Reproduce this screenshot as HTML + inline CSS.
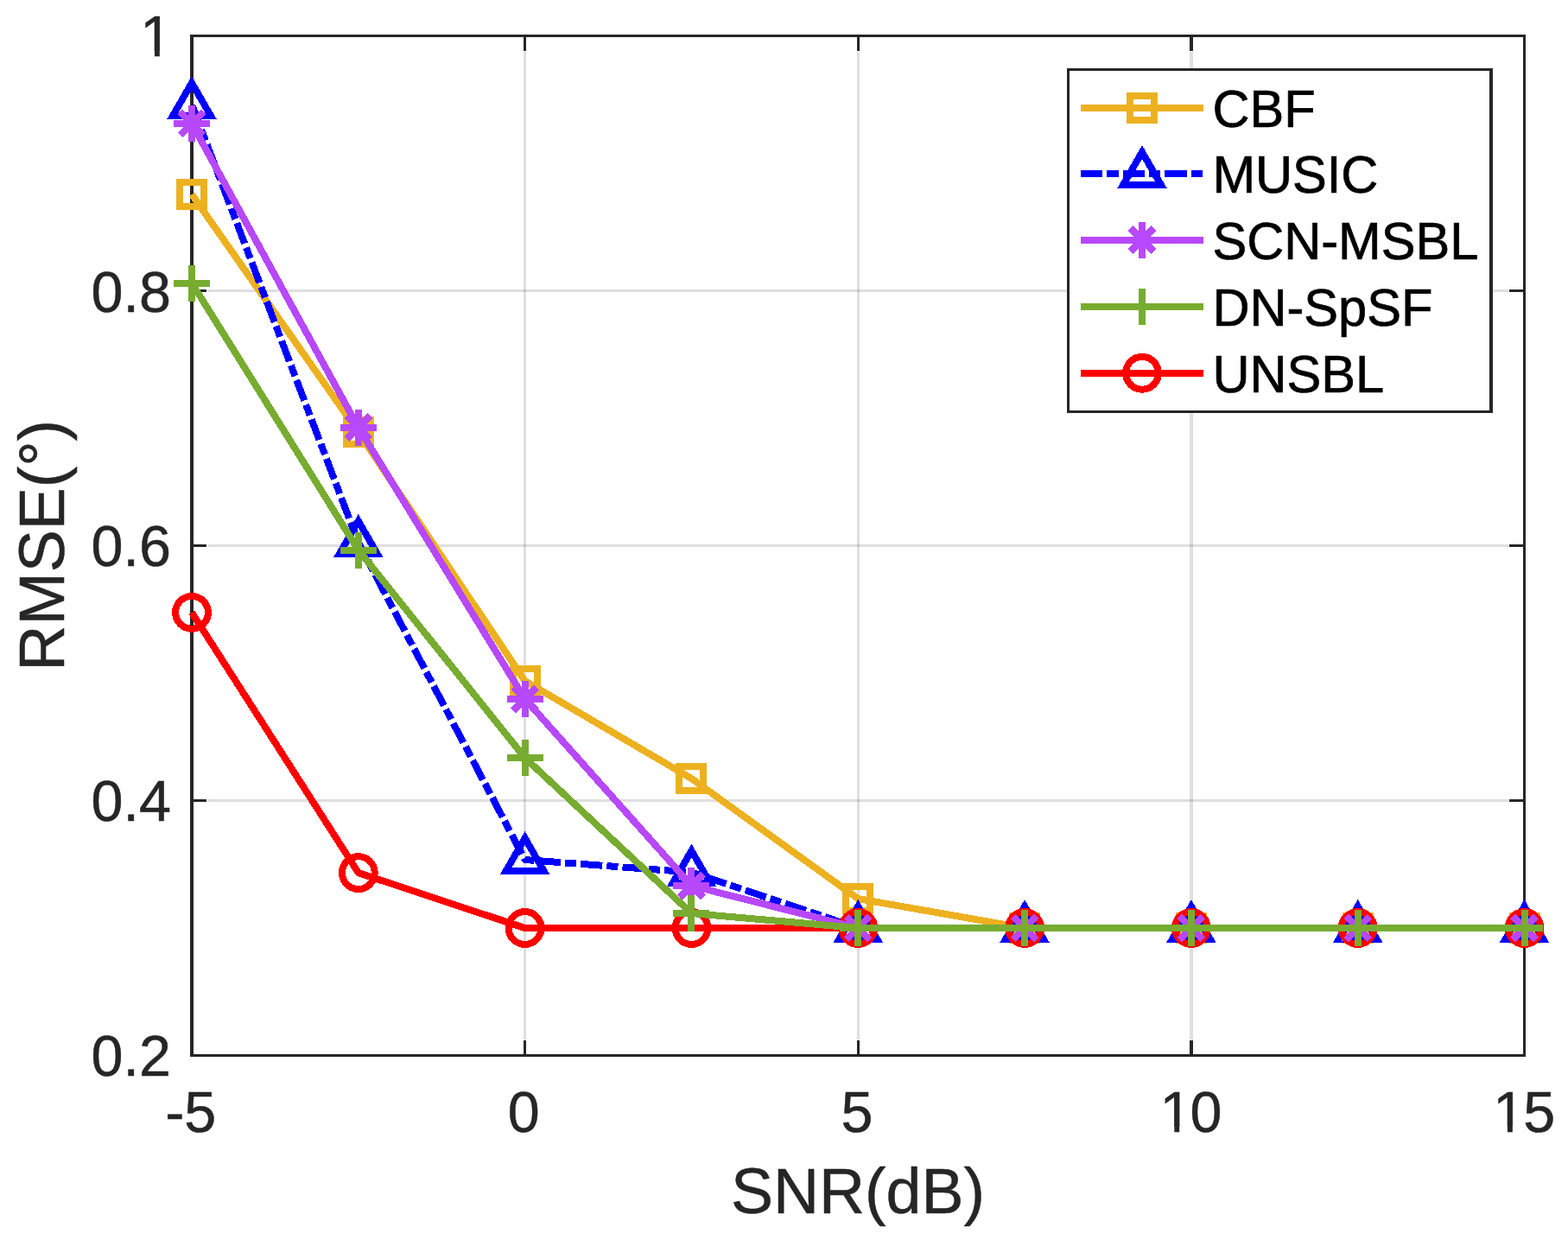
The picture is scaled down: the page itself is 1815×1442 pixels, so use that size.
<!DOCTYPE html>
<html><head><meta charset="utf-8"><title>RMSE vs SNR</title>
<style>
html,body{margin:0;padding:0;background:#fff;overflow:hidden;}
svg{display:block;}
text{font-family:"Liberation Sans",Arial,Helvetica,sans-serif;}
</style></head><body>
<svg width="1815" height="1442" viewBox="0 0 1815 1442">
<rect width="1815" height="1442" fill="#fff"/>
<g fill="#262626" fill-opacity="0.15" shape-rendering="crispEdges"><rect x="606" y="60" width="3" height="1143"/><rect x="992" y="60" width="3" height="1143"/><rect x="1377" y="60" width="4" height="1143"/><rect x="240" y="335" width="1506" height="3"/><rect x="240" y="630" width="1506" height="3"/><rect x="240" y="925" width="1506" height="3"/></g>
<g fill="#262626" shape-rendering="crispEdges"><rect x="606" y="1204" width="3" height="16"/><rect x="606" y="43" width="3" height="16"/><rect x="992" y="1204" width="3" height="16"/><rect x="992" y="43" width="3" height="16"/><rect x="1377" y="1204" width="4" height="16"/><rect x="1377" y="43" width="4" height="16"/><rect x="224" y="335" width="15" height="3"/><rect x="1747" y="335" width="16" height="3"/><rect x="224" y="630" width="15" height="3"/><rect x="1747" y="630" width="16" height="3"/><rect x="224" y="925" width="15" height="3"/><rect x="1747" y="925" width="16" height="3"/><rect x="220" y="40" width="4" height="1183"/><rect x="1763" y="40" width="3" height="1183"/><rect x="220" y="40" width="1546" height="3"/><rect x="220" y="1220" width="1546" height="3"/></g>
<g fill="#262626" font-size="66.5" stroke="#262626" stroke-width="0.5"><text transform="translate(191.14 1310.2) scale(1 1.015)" x="0 22.15">-5</text><text transform="translate(587.83 1310.2) scale(1 1.015)" x="0">0</text><text transform="translate(973.46 1310.2) scale(1 1.015)" x="0">5</text><text transform="translate(1342.59 1310.2) scale(1 1.015)" x="0 34.98">10</text><text transform="translate(1728.22 1310.2) scale(1 1.015)" x="0 34.98">15</text><text transform="translate(105.56 1245.1) scale(1 1.015)" x="0 36.98 55.46">0.2</text><text transform="translate(105.56 950.1) scale(1 1.015)" x="0 36.98 55.46">0.4</text><text transform="translate(105.56 655.1) scale(1 1.015)" x="0 36.98 55.46">0.6</text><text transform="translate(105.56 361.1) scale(1 1.015)" x="0 36.98 55.46">0.8</text><text transform="translate(162.22 65.4) scale(1 1.015)" x="0">1</text></g>
<g fill="#fff"><rect x="1345.46" y="1304" width="13.85" height="7"/><rect x="1365.19" y="1304" width="13.34" height="7"/><rect x="1731.09" y="1304" width="13.85" height="7"/><rect x="1750.82" y="1304" width="13.34" height="7"/><rect x="165.09" y="59" width="13.85" height="8"/><rect x="184.82" y="59" width="13.34" height="8"/></g>
<text transform="translate(992.9 1403.9) scale(1 1.016)" text-anchor="middle" font-size="73.5" fill="#262626" stroke="#262626" stroke-width="0.5">SNR(dB)</text>
<text transform="translate(73.9 631.3) rotate(-90) scale(1 1.016)" text-anchor="middle" font-size="73.5" fill="#262626" stroke="#262626" stroke-width="0.5">RMSE(°)</text>
<g shape-rendering="crispEdges">
<polyline points="222,225 414.81,500 607.62,788 800.44,901 993.25,1040.1 1186.06,1074 1378.88,1074 1571.69,1074 1764.5,1074" fill="none" stroke="#EDB120" stroke-width="8" stroke-linejoin="round"/>
<g><rect x="208" y="211" width="28" height="28" fill="none" stroke="#EDB120" stroke-width="8"/><rect x="400.81" y="486" width="28" height="28" fill="none" stroke="#EDB120" stroke-width="8"/><rect x="593.62" y="774" width="28" height="28" fill="none" stroke="#EDB120" stroke-width="8"/><rect x="786.44" y="887" width="28" height="28" fill="none" stroke="#EDB120" stroke-width="8"/><rect x="979.25" y="1026.1" width="28" height="28" fill="none" stroke="#EDB120" stroke-width="8"/><rect x="1172.06" y="1060" width="28" height="28" fill="none" stroke="#EDB120" stroke-width="8"/><rect x="1364.88" y="1060" width="28" height="28" fill="none" stroke="#EDB120" stroke-width="8"/><rect x="1557.69" y="1060" width="28" height="28" fill="none" stroke="#EDB120" stroke-width="8"/><rect x="1750.5" y="1060" width="28" height="28" fill="none" stroke="#EDB120" stroke-width="8"/></g>
<polyline points="222,121 414.81,628 607.62,995 800.44,1009.5 993.25,1074 1186.06,1074 1378.88,1074 1571.69,1074 1764.5,1074" fill="none" stroke="#0000FF" stroke-width="8" stroke-linejoin="round" stroke-dasharray="25.3 5.1 13.1 5.1" stroke-dashoffset="-1"/>
<g><polygon points="222,96 243.65,133.5 200.35,133.5" fill="none" stroke="#0000FF" stroke-width="8" stroke-miterlimit="10"/><polygon points="414.81,603 436.46,640.5 393.16,640.5" fill="none" stroke="#0000FF" stroke-width="8" stroke-miterlimit="10"/><polygon points="607.62,970 629.28,1007.5 585.97,1007.5" fill="none" stroke="#0000FF" stroke-width="8" stroke-miterlimit="10"/><polygon points="800.44,984.5 822.09,1022 778.79,1022" fill="none" stroke="#0000FF" stroke-width="8" stroke-miterlimit="10"/><polygon points="993.25,1049 1014.9,1086.5 971.6,1086.5" fill="none" stroke="#0000FF" stroke-width="8" stroke-miterlimit="10"/><polygon points="1186.06,1049 1207.71,1086.5 1164.41,1086.5" fill="none" stroke="#0000FF" stroke-width="8" stroke-miterlimit="10"/><polygon points="1378.88,1049 1400.53,1086.5 1357.22,1086.5" fill="none" stroke="#0000FF" stroke-width="8" stroke-miterlimit="10"/><polygon points="1571.69,1049 1593.34,1086.5 1550.04,1086.5" fill="none" stroke="#0000FF" stroke-width="8" stroke-miterlimit="10"/><polygon points="1764.5,1049 1786.15,1086.5 1742.85,1086.5" fill="none" stroke="#0000FF" stroke-width="8" stroke-miterlimit="10"/></g>
<polyline points="222,708.85 414.81,1010.1 607.62,1074 800.44,1074 993.25,1074 1186.06,1074 1378.88,1074 1571.69,1074 1764.5,1074" fill="none" stroke="#FF0000" stroke-width="8" stroke-linejoin="round"/>
<g><circle cx="222" cy="708.85" r="18.9" fill="none" stroke="#FF0000" stroke-width="8"/><circle cx="414.81" cy="1010.1" r="18.9" fill="none" stroke="#FF0000" stroke-width="8"/><circle cx="607.62" cy="1074" r="18.9" fill="none" stroke="#FF0000" stroke-width="8"/><circle cx="800.44" cy="1074" r="18.9" fill="none" stroke="#FF0000" stroke-width="8"/><circle cx="993.25" cy="1074" r="18.9" fill="none" stroke="#FF0000" stroke-width="8"/><circle cx="1186.06" cy="1074" r="18.9" fill="none" stroke="#FF0000" stroke-width="8"/><circle cx="1378.88" cy="1074" r="18.9" fill="none" stroke="#FF0000" stroke-width="8"/><circle cx="1571.69" cy="1074" r="18.9" fill="none" stroke="#FF0000" stroke-width="8"/><circle cx="1764.5" cy="1074" r="18.9" fill="none" stroke="#FF0000" stroke-width="8"/></g>
<polyline points="222,142.9 414.81,494.7 607.62,808.9 800.44,1025 993.25,1074 1186.06,1074 1378.88,1074 1571.69,1074 1764.5,1074" fill="none" stroke="#B748FC" stroke-width="8" stroke-linejoin="round"/>
<g><path d="M201 142.9H243M222 121.9V163.9M208.5 129.4L235.5 156.4M208.5 156.4L235.5 129.4" stroke="#B748FC" stroke-width="8" fill="none"/><path d="M393.81 494.7H435.81M414.81 473.7V515.7M401.31 481.2L428.31 508.2M401.31 508.2L428.31 481.2" stroke="#B748FC" stroke-width="8" fill="none"/><path d="M586.62 808.9H628.62M607.62 787.9V829.9M594.12 795.4L621.12 822.4M594.12 822.4L621.12 795.4" stroke="#B748FC" stroke-width="8" fill="none"/><path d="M779.44 1025H821.44M800.44 1004V1046M786.94 1011.5L813.94 1038.5M786.94 1038.5L813.94 1011.5" stroke="#B748FC" stroke-width="8" fill="none"/><path d="M972.25 1074H1014.25M993.25 1053V1095M979.75 1060.5L1006.75 1087.5M979.75 1087.5L1006.75 1060.5" stroke="#B748FC" stroke-width="8" fill="none"/><path d="M1165.06 1074H1207.06M1186.06 1053V1095M1172.56 1060.5L1199.56 1087.5M1172.56 1087.5L1199.56 1060.5" stroke="#B748FC" stroke-width="8" fill="none"/><path d="M1357.88 1074H1399.88M1378.88 1053V1095M1365.38 1060.5L1392.38 1087.5M1365.38 1087.5L1392.38 1060.5" stroke="#B748FC" stroke-width="8" fill="none"/><path d="M1550.69 1074H1592.69M1571.69 1053V1095M1558.19 1060.5L1585.19 1087.5M1558.19 1087.5L1585.19 1060.5" stroke="#B748FC" stroke-width="8" fill="none"/><path d="M1743.5 1074H1785.5M1764.5 1053V1095M1751 1060.5L1778 1087.5M1751 1087.5L1778 1060.5" stroke="#B748FC" stroke-width="8" fill="none"/></g>
<polyline points="222,327.5 414.81,636.5 607.62,877 800.44,1057 993.25,1074 1186.06,1074 1378.88,1074 1571.69,1074 1764.5,1074" fill="none" stroke="#77AC30" stroke-width="8" stroke-linejoin="round"/>
<g><path d="M201 327.5H243M222 306.5V348.5" stroke="#77AC30" stroke-width="8" fill="none"/><path d="M393.81 636.5H435.81M414.81 615.5V657.5" stroke="#77AC30" stroke-width="8" fill="none"/><path d="M586.62 877H628.62M607.62 856V898" stroke="#77AC30" stroke-width="8" fill="none"/><path d="M779.44 1057H821.44M800.44 1036V1078" stroke="#77AC30" stroke-width="8" fill="none"/><path d="M972.25 1074H1014.25M993.25 1053V1095" stroke="#77AC30" stroke-width="8" fill="none"/><path d="M1165.06 1074H1207.06M1186.06 1053V1095" stroke="#77AC30" stroke-width="8" fill="none"/><path d="M1357.88 1074H1399.88M1378.88 1053V1095" stroke="#77AC30" stroke-width="8" fill="none"/><path d="M1550.69 1074H1592.69M1571.69 1053V1095" stroke="#77AC30" stroke-width="8" fill="none"/><path d="M1743.5 1074H1785.5M1764.5 1053V1095" stroke="#77AC30" stroke-width="8" fill="none"/></g>
</g>
<g shape-rendering="crispEdges"><rect x="1235" y="79" width="493" height="399" fill="#fff"/>
<g fill="#262626"><rect x="1235" y="79" width="3" height="399"/><rect x="1724" y="79" width="4" height="399"/><rect x="1235" y="79" width="493" height="3"/><rect x="1235" y="475" width="493" height="3"/></g></g>
<g shape-rendering="crispEdges"><line x1="1251" y1="125" x2="1393" y2="125" stroke="#EDB120" stroke-width="8"/><rect x="1308" y="111" width="28" height="28" fill="none" stroke="#EDB120" stroke-width="8"/></g>
<text transform="translate(1403.4 147) scale(1 1.012)" font-size="59.6" fill="#000" stroke="#000" stroke-width="0.7">CBF</text>
<g shape-rendering="crispEdges"><line x1="1251" y1="201" x2="1393" y2="201" stroke="#0000FF" stroke-width="8" stroke-dasharray="25.3 5.1 13.1 5.1"/><polygon points="1322,176 1343.65,213.5 1300.35,213.5" fill="none" stroke="#0000FF" stroke-width="8" stroke-miterlimit="10"/></g>
<text transform="translate(1403.4 223) scale(1 1.012)" font-size="59.6" fill="#000" stroke="#000" stroke-width="0.7">MUSIC</text>
<g shape-rendering="crispEdges"><line x1="1251" y1="277.6" x2="1393" y2="277.6" stroke="#B748FC" stroke-width="8"/><path d="M1301 277.6H1343M1322 256.6V298.6M1308.5 264.1L1335.5 291.1M1308.5 291.1L1335.5 264.1" stroke="#B748FC" stroke-width="8" fill="none"/></g>
<text transform="translate(1403.4 299.6) scale(1 1.012)" font-size="59.6" fill="#000" stroke="#000" stroke-width="0.7">SCN-MSBL</text>
<g shape-rendering="crispEdges"><line x1="1251" y1="354.6" x2="1393" y2="354.6" stroke="#77AC30" stroke-width="8"/><path d="M1301 354.6H1343M1322 333.6V375.6" stroke="#77AC30" stroke-width="8" fill="none"/></g>
<text transform="translate(1403.4 376.6) scale(1 1.012)" font-size="59.6" fill="#000" stroke="#000" stroke-width="0.7">DN-SpSF</text>
<g shape-rendering="crispEdges"><line x1="1251" y1="431.8" x2="1393" y2="431.8" stroke="#FF0000" stroke-width="8"/><circle cx="1322" cy="431.8" r="18.9" fill="none" stroke="#FF0000" stroke-width="8"/></g>
<text transform="translate(1403.4 453.8) scale(1 1.012)" font-size="59.6" fill="#000" stroke="#000" stroke-width="0.7">UNSBL</text>
</svg></body></html>
